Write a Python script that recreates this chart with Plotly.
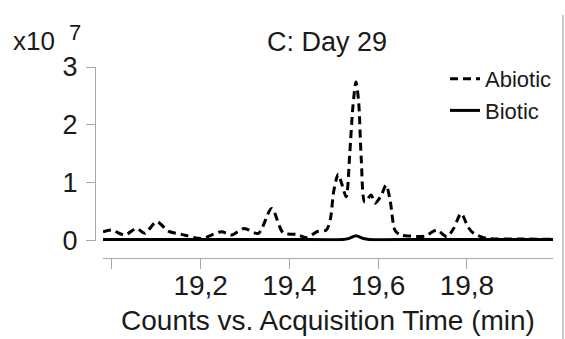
import plotly.graph_objects as go

# Abiotic trace (time in min, counts in 1e7)
abiotic_t = [18.980, 18.999, 19.029, 19.056, 19.074, 19.101, 19.127, 19.157, 19.202,
             19.247, 19.270, 19.298, 19.330, 19.360, 19.386, 19.416, 19.439, 19.462,
             19.483, 19.492, 19.500, 19.510, 19.519, 19.528, 19.536, 19.543, 19.550,
             19.556, 19.562, 19.570, 19.584, 19.593, 19.606, 19.618, 19.627, 19.638,
             19.650, 19.672, 19.706, 19.732, 19.755, 19.770, 19.787, 19.803, 19.815,
             19.845, 19.920, 19.994]
abiotic_y = [0.144, 0.173, 0.087, 0.202, 0.116, 0.318, 0.156, 0.098, 0.029,
             0.144, 0.087, 0.202, 0.116, 0.549, 0.126, 0.098, 0.040, 0.144,
             0.173, 0.350, 0.850, 1.140, 0.950, 0.750, 1.500, 2.300, 2.740,
             2.400, 1.400, 0.660, 0.780, 0.640, 0.760, 0.950, 0.690, 0.170,
             0.090, 0.069, 0.069, 0.173, 0.058, 0.200, 0.460, 0.220, 0.116,
             0.029, 0.020, 0.012]

# Biotic trace
biotic_t = [18.980, 19.200, 19.400, 19.520, 19.535, 19.550, 19.565, 19.580, 19.700, 19.994]
biotic_y = [0.010, 0.010, 0.010, 0.010, 0.030, 0.075, 0.030, 0.010, 0.010, 0.010]

x_tickvals = [19.0, 19.2, 19.4, 19.6, 19.8]
x_ticktext = ["", "19,2", "19,4", "19,6", "19,8"]
y_tickvals = [0, 1, 2, 3]
y_ticktext = ["0", "1", "2", "3"]

FONT = "Liberation Sans, Arial, sans-serif"
AXC = "#a8a8a8"
TXT = "#1a1a1a"

fig = go.Figure()
fig.add_trace(go.Scatter(x=abiotic_t, y=abiotic_y, mode="lines", name="Abiotic",
                         line=dict(color="black", width=3, dash="8px,5px", shape="spline", smoothing=0.8)))
fig.add_trace(go.Scatter(x=biotic_t, y=biotic_y, mode="lines", name="Biotic",
                         line=dict(color="black", width=3, shape="spline", smoothing=0.8)))

W, H = 565, 339
ml, mr, mt, mb = 95, 12, 67, 81
pw = W - ml - mr
ph = H - mt - mb


def px_x(p):
    return (p - ml) / pw


def px_y(p):
    return (H - mb - p) / ph


fig.update_layout(
    width=W, height=H,
    margin=dict(l=ml, r=mr, t=mt, b=mb, pad=0, autoexpand=False),
    paper_bgcolor="white", plot_bgcolor="white",
    separators=",.",
    font=dict(family=FONT, size=24, color=TXT),
    showlegend=True,
    legend=dict(x=px_x(445), y=px_y(58), xref="paper", yref="paper",
                xanchor="left", yanchor="top", bgcolor="rgba(0,0,0,0)",
                font=dict(size=22, color=TXT), borderwidth=0),
    title=dict(text="C: Day 29", x=327 / W, y=1 - 42 / H, xref="container", yref="container",
               xanchor="center", yanchor="middle", font=dict(size=27, color=TXT)),
    xaxis=dict(domain=[px_x(103), 1], range=[18.98, 19.994], anchor="free", position=0,
               tickmode="array", tickvals=x_tickvals, ticktext=x_ticktext,
               showgrid=False, zeroline=False, showline=True, linecolor=AXC, linewidth=1.2,
               ticks="outside", ticklen=10, tickcolor=AXC, tickwidth=1.2,
               tickfont=dict(size=28, color=TXT), ticklabelstandoff=-8,
               title=dict(text="Counts vs. Acquisition Time (min)", font=dict(size=28, color=TXT), standoff=10)),
    yaxis=dict(domain=[px_y(241.2), 1], range=[-0.02, 3], anchor="free", position=0,
               tickmode="array", tickvals=y_tickvals, ticktext=y_ticktext,
               showgrid=False, zeroline=False, showline=True, linecolor=AXC, linewidth=1.2,
               ticks="outside", ticklen=9, tickcolor=AXC, tickwidth=1.2,
               tickfont=dict(size=27, color=TXT), ticklabelstandoff=3),
)

fig.add_annotation(text="x10", xref="paper", yref="paper",
                   x=px_x(34), y=px_y(41), xanchor="center", yanchor="middle",
                   showarrow=False, font=dict(size=26, color=TXT))
fig.add_annotation(text="7", xref="paper", yref="paper",
                   x=px_x(75), y=px_y(33), xanchor="center", yanchor="middle",
                   showarrow=False, font=dict(size=22, color=TXT))

fig.add_shape(type="line", xref="paper", yref="paper",
              x0=px_x(563), x1=px_x(563), y0=px_y(339), y1=px_y(15),
              line=dict(color=AXC, width=1.2))

fig.write_html("out.html")
